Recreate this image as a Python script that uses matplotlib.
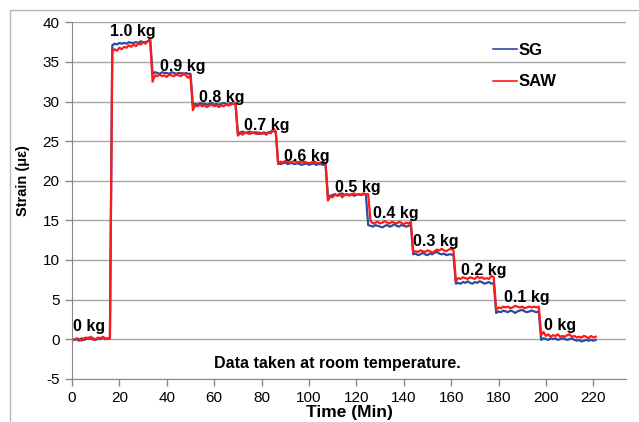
import matplotlib
matplotlib.use('Agg')
import matplotlib.pyplot as plt
import matplotlib.patches as patches
import numpy as np

plt.rcParams['font.family'] = ['Liberation Sans', 'DejaVu Sans']
plt.rcParams['axes.unicode_minus'] = False

# time in minutes, one reading per minute
time = np.arange(0, 222)

# SG readings, one line per load step
sg = [0.0, -0.1, 0.0, -0.2, 0.1, -0.1, 0.0, 0.2, 0.0, 0.1, -0.1, 0.1, 0.0, 0.2, 0.0, 0.1, 0.1,
      37.1, 37.3, 37.2, 37.4, 37.3, 37.4, 37.3, 37.5, 37.4, 37.4, 37.5, 37.4, 37.6, 37.5, 37.5, 37.6, 37.7,
      33.5, 33.7, 33.6, 33.5, 33.7, 33.6, 33.6, 33.5, 33.7, 33.6, 33.5, 33.6, 33.6, 33.4, 33.6, 33.5, 33.5,
      29.6, 29.7, 29.6, 29.8, 29.7, 29.7, 29.6, 29.7, 29.8, 29.6, 29.7, 29.6, 29.7, 29.8, 29.7, 29.6, 29.8, 29.7, 29.7,
      26.0, 26.1, 26.2, 26.0, 26.1, 26.2, 26.0, 26.1, 26.1, 25.9, 26.0, 26.1, 26.0, 26.1, 26.2, 26.3, 26.1,
      22.2, 22.1, 22.2, 22.3, 22.1, 22.2, 22.2, 22.1, 22.2, 22.1, 22.0, 22.1, 22.2, 22.0, 22.1, 22.2, 22.0, 22.1, 22.1, 22.0, 22.1,
      18.0, 18.1, 18.2, 18.3, 18.1, 18.2, 18.4, 18.2, 18.3, 18.2, 18.3, 18.1, 18.2, 18.3, 18.2, 18.3, 18.3, 14.4,
      14.3, 14.2, 14.4, 14.3, 14.2, 14.1, 14.3, 14.4, 14.2, 14.3, 14.5, 14.3, 14.2, 14.4, 14.3, 14.2, 14.3, 14.4,
      10.7, 10.8, 10.6, 10.7, 10.9, 10.7, 10.6, 10.8, 10.7, 10.9, 11.0, 10.8, 10.7, 10.8, 10.6, 10.7, 10.7, 10.6,
      7.0, 7.1, 7.0, 7.2, 7.1, 7.3, 7.1, 7.0, 7.2, 7.1, 7.3, 7.2, 7.0, 7.1, 7.2, 7.0, 7.1,
      3.3, 3.5, 3.4, 3.6, 3.5, 3.4, 3.6, 3.5, 3.3, 3.5, 3.6, 3.7, 3.5, 3.4, 3.5, 3.6, 3.5, 3.4, 3.5,
      -0.1, 0.1, 0.0, -0.1, 0.1, 0.0, 0.1, -0.1, 0.0, 0.1, 0.0, -0.1, 0.0, 0.1, -0.1, -0.2, -0.1, -0.3, -0.2, -0.1, -0.2, -0.1, -0.2, -0.1]

# SAW readings
saw = [0.0, -0.1, 0.1, 0.0, -0.2, 0.1, 0.2, 0.0, 0.3, -0.1, 0.0, 0.2, 0.1, 0.3, 0.1, 0.0, 0.1,
       36.3, 36.6, 36.4, 36.8, 36.6, 36.9, 36.8, 37.1, 36.9, 37.2, 37.0, 37.3, 37.2, 37.5, 37.3, 37.6, 37.9,
       32.5, 33.3, 33.2, 33.4, 33.2, 33.3, 33.1, 33.4, 33.3, 33.2, 33.4, 33.3, 33.2, 33.6, 33.3, 33.0, 33.3,
       28.9, 29.5, 29.4, 29.6, 29.4, 29.5, 29.3, 29.5, 29.6, 29.4, 29.5, 29.3, 29.5, 29.4, 29.6, 29.5, 29.6, 29.7, 29.8,
       25.7, 26.0, 25.8, 26.1, 26.0, 25.9, 26.1, 26.0, 25.9, 26.1, 25.9, 26.0, 25.8, 26.1, 26.0, 26.6, 26.2,
       22.1, 22.4, 22.3, 22.5, 22.4, 22.3, 22.4, 22.5, 22.3, 22.4, 22.3, 22.4, 22.3, 22.2, 22.3, 22.4, 22.3, 22.2, 22.3, 22.4, 22.2,
       17.5, 18.0, 17.9, 18.3, 18.1, 18.4, 17.9, 18.2, 18.3, 18.1, 18.3, 18.4, 18.2, 18.3, 18.2, 18.4, 18.3, 18.3,
       14.9, 14.6, 14.7, 14.8, 14.6, 14.7, 14.9, 14.7, 14.6, 14.8, 14.7, 14.6, 14.8, 14.7, 14.5, 14.7, 14.6, 14.8,
       11.0, 11.1, 11.0, 11.2, 11.1, 11.0, 11.2, 11.1, 10.9, 11.1, 11.3, 11.2, 11.4, 11.2, 11.1, 11.3, 11.4, 11.2,
       7.3, 7.7, 7.6, 7.8, 7.7, 7.6, 7.8, 7.7, 7.6, 7.9, 7.7, 7.8, 7.6, 7.7, 7.6, 8.0, 7.8,
       3.7, 4.0, 3.9, 4.1, 4.0, 4.1, 3.9, 4.0, 4.2, 4.1, 4.0, 4.1, 3.9, 4.0, 4.1, 4.0, 4.1, 4.0, 4.1,
       0.5, 0.9, 0.4, 0.6, 0.3, 0.5, 0.4, 0.6, 0.3, 0.4, 0.3, 0.5, 0.6, 0.3, 0.4, 0.2, 0.3, 0.2, 0.4, 0.3, 0.1, 0.4, 0.2, 0.3]

# load labels and where they sit (time, strain)
loads = ['0 kg', '1.0 kg', '0.9 kg', '0.8 kg', '0.7 kg', '0.6 kg',
         '0.5 kg', '0.4 kg', '0.3 kg', '0.2 kg', '0.1 kg', '0 kg']
load_t = [0.4, 16.2, 37.0, 53.6, 72.4, 89.6, 111.0, 127.0, 143.7, 164.0, 182.3, 199.2]
load_y = [1.6, 38.8, 34.4, 30.5, 27.0, 23.0, 19.2, 15.9, 12.3, 8.7, 5.2, 1.7]

fig = plt.figure(figsize=(6.39, 4.22), dpi=100)
ax = fig.add_axes([72/639, 1-378.7/422, (626-72)/639, (378.7-22.3)/422])

# outer chart border
fig.patches.append(patches.Rectangle((10/639, -0.1), 1.2, 1.1-10/422, transform=fig.transFigure,
                                     fill=False, edgecolor='#b8b8b8', linewidth=1.0))

ax.plot(time, sg, color='#2b4c9e', linewidth=1.6, label='SG')
ax.plot(time, saw, color='#ff1a1a', linewidth=1.6, label='SAW')

for lab, tx, ty in zip(loads, load_t, load_y):
    ax.text(tx, ty, lab, fontsize=11.5, fontweight='bold', ha='left', va='center', clip_on=False)

ax.text(112, -3.1, 'Data taken at room temperature.', fontsize=11.5, fontweight='bold',
        ha='center', va='center')

ax.set_xlim(0, 233.8)
ax.set_ylim(-5, 40)
ax.set_xticks(range(0, 221, 20))
ax.set_yticks(range(-5, 41, 5))
ax.grid(axis='y', color='#a6a6a6', linewidth=1.0)
ax.set_axisbelow(True)
for s in ['top', 'right']:
    ax.spines[s].set_visible(False)
for s in ['left', 'bottom']:
    ax.spines[s].set_color('#888888')
ax.tick_params(axis='both', labelsize=11, color='#888888', length=5, width=1, pad=4)
ax.set_xlabel('Time (Min)', fontsize=12.5, fontweight='bold')
ax.xaxis.set_label_coords(0.5, -0.094)
ax.xaxis.label.set_va('center')
ax.set_ylabel('Strain (\u03bc\u03b5)', fontsize=10.5, fontweight='bold')
ax.yaxis.set_label_coords(-0.076, 0.557)

leg = ax.legend(loc='upper left', bbox_to_anchor=((486-72)/554, 1-(36-22.3)/356.4), frameon=False,
                prop={'size': 12, 'weight': 'bold'}, handlelength=1.45, handletextpad=0.1,
                labelspacing=1.0, borderaxespad=0)
for line in leg.get_lines():
    line.set_linewidth(1.2)

fig.savefig('out.png', dpi=100)
